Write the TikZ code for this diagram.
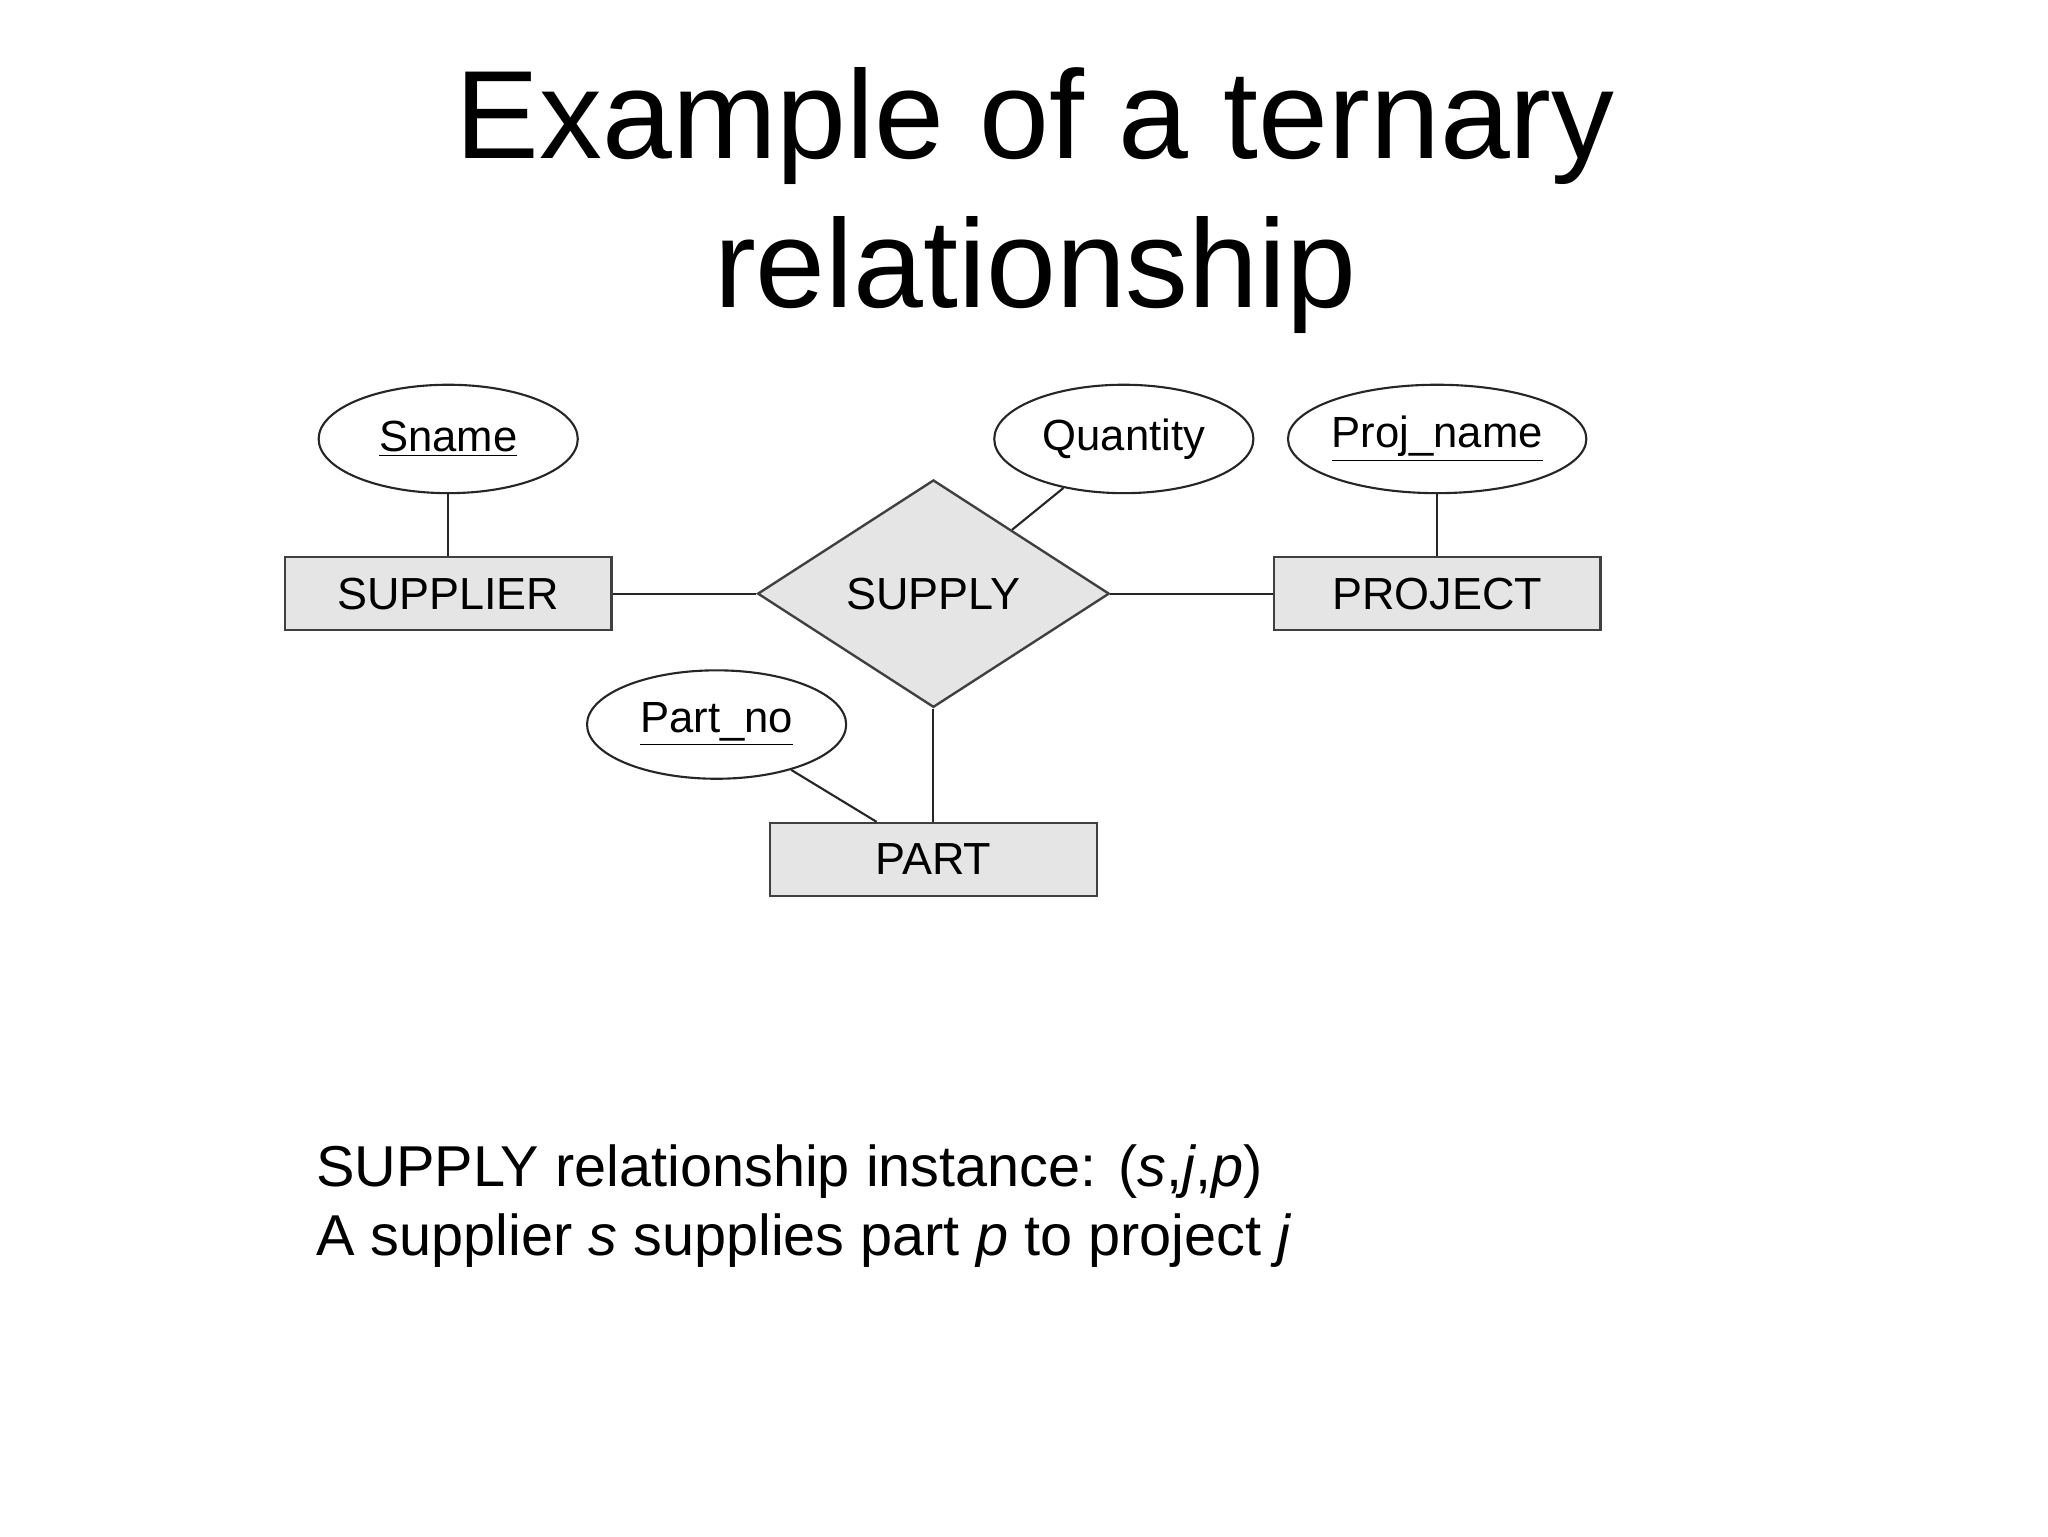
\documentclass[tikz,border=0pt]{standalone}
\usepackage{fontspec}
\setmainfont{Liberation Sans}
\usetikzlibrary{shapes.geometric}
\begin{document}
\begin{tikzpicture}[x=0.5pt,y=-0.5pt,
  ent/.style={draw=black!75,line width=0.9pt,fill=black!10,minimum width=123.5pt,minimum height=27.5pt,inner sep=0pt,font=\fontsize{17}{20}\selectfont},
  att/.style={draw=black!85,line width=0.8pt,ellipse,minimum width=98pt,minimum height=41pt,inner sep=0pt,font=\fontsize{16.5}{20}\selectfont},
  rel/.style={draw=black!75,line width=0.9pt,fill=black!10,diamond,aspect=1.55,minimum width=133pt,minimum height=86pt,inner sep=0pt,font=\fontsize{17}{20}\selectfont},
  ln/.style={black!85,line width=0.8pt}]
\useasboundingbox (0,0) rectangle (1549,1162);
\node (t1) at (783,95) {\fontsize{47.5}{58}\selectfont Example of a ternary};
\node (t2) at (783,208) {\fontsize{47.5}{58}\selectfont relationship};
\node[ent] (sup) at (339,449) {SUPPLIER};
\node[ent] (proj) at (1087,449) {PROJECT};
\node[ent] (part) at (706,650) {PART};
\node[rel] (supply) at (706,449) {SUPPLY};
\node[att] (sname) at (339,332) {\underline{Sname}};
\node[att] (qty) at (850,332) {Quantity};
\node[att] (pname) at (1087,332) {\underline{Proj\_name}};
\node[att] (pno) at (542,548) {\underline{Part\_no}};
\draw[ln] (sname) -- (sup);
\draw[ln] (pname) -- (proj);
\draw[ln] (sup) -- (supply);
\draw[ln] (supply) -- (proj);
\draw[ln] (supply) -- (part);
\draw[ln] (qty) -- (supply);
\draw[ln] (pno) -- (part.north west -| 663,0);
\node[anchor=west,align=left,font=\fontsize{21.8}{26}\selectfont] (txt) at (232,912) {SUPPLY relationship instance: (\textit{s},\textit{j},\textit{p})\\A supplier \textit{s} supplies part \textit{p} to project \textit{j}};
\end{tikzpicture}
\end{document}
